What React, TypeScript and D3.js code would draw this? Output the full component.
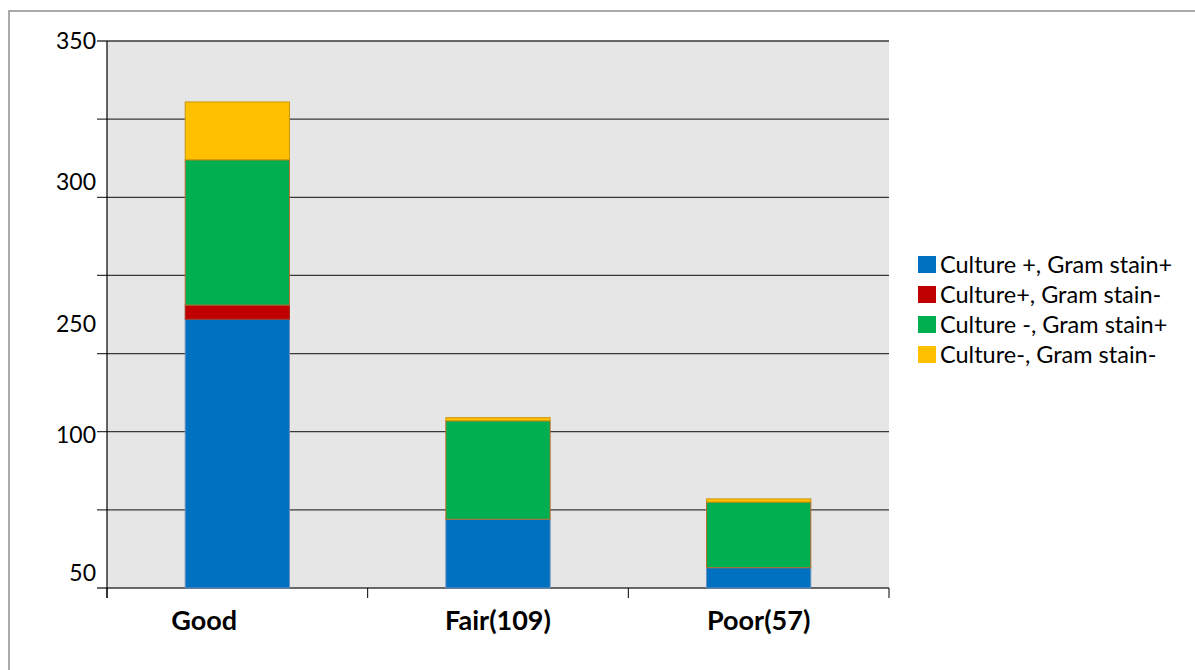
import React from 'react'
import * as d3 from 'd3'

const categories = ['Good', 'Fair(109)', 'Poor(57)']
const seriesNames = ['Culture +, Gram stain+', 'Culture+, Gram stain-', 'Culture -, Gram stain+', 'Culture-, Gram stain-']
const cultPosGramPos = [172, 44, 13]
const cultPosGramNeg = [9, 0, 0]
const cultNegGramPos = [93, 63, 42]
const cultNegGramNeg = [37, 2, 2]
const gridValues = [0, 50, 100, 150, 200, 250, 300, 350]
// the tick texts in the original sit at odd spots, kept as they were
const tickLabels = ['350', '300', '250', '100', '50']
const tickLabelAt = [350, 260, 169, 98, 10]

const colors = ['#0070c0', '#c00000', '#00b050', '#ffc000']
const strokes = ['#6a8fbf', '#a0301c', '#b8682c', '#c8960a']

const W = 1195
const H = 670
const left = 107, right = 889, top = 41, bottom = 588

const App = () => {
  const x = d3.scaleBand().domain(categories).range([left, right]).paddingInner(0.6).paddingOuter(0.3)
  const band = d3.scaleBand().domain(categories).range([left, right])
  const y = d3.scaleLinear().domain([0, 350]).range([bottom, top])

  const rows = categories.map((c, i) => ({
    cat: c,
    s0: cultPosGramPos[i],
    s1: cultPosGramNeg[i],
    s2: cultNegGramPos[i],
    s3: cultNegGramNeg[i],
  }))
  const stacked = d3.stack<any>().keys(['s0', 's1', 's2', 's3'])(rows)
  const font = 'Lato, "Open Sans", sans-serif'

  return (
    <svg width={W} height={H} style={{position: 'absolute', left: 0, top: 0}}>
      <rect x={0} y={0} width={W} height={H} fill="#fff" />
      <rect x={9} y={11} width={W + 20} height={H + 20} fill="none" stroke="#aaaaaa" strokeWidth={2} />
      <rect x={left} y={top} width={right - left} height={bottom - top} fill="#e6e6e6" />
      {gridValues.map(v => (
        <line key={v} x1={left - 10} x2={right} y1={y(v)} y2={y(v)} stroke="#383838" strokeWidth={1.3} />
      ))}
      <line x1={left} x2={left} y1={top} y2={bottom + 10} stroke="#000" strokeWidth={1.2} />
      {band.domain().map(c => (
        <line key={c} x1={band(c)!} x2={band(c)!} y1={bottom} y2={bottom + 10} stroke="#000" strokeWidth={1} />
      ))}
      <line x1={right} x2={right} y1={bottom} y2={bottom + 10} stroke="#000" strokeWidth={1} />
      {stacked.map((layer, k) => (
        <g key={k}>
          {layer.map((d, i) => {
            const h = y(d[0]) - y(d[1])
            if (h <= 0) return null
            return (
              <rect key={i} x={x(categories[i])!} width={x.bandwidth()} y={y(d[1])} height={h}
                fill={colors[k]} stroke={strokes[k]} strokeWidth={1} />
            )
          })}
        </g>
      ))}
      {tickLabels.map((t, i) => (
        <text key={t} x={96} y={y(tickLabelAt[i])} dy="0.36em" textAnchor="end" fontSize={23} fontFamily={font} fill="#000">{t}</text>
      ))}
      {categories.map((c, i) => {
        const cx = band(c)! + band.bandwidth() / 2
        return (
          <text key={c} x={i === 0 ? cx - 66 : cx} y={630} textAnchor={i === 0 ? 'start' : 'middle'}
            fontSize={27} fontWeight="bold" fontFamily={font} fill="#000">{c}</text>
        )
      })}
      {seriesNames.map((n, i) => (
        <g key={n} transform={`translate(918, ${256 + i * 30})`}>
          <rect width={18} height={17} fill={colors[i]} />
          <text x={22} y={9} dy="0.36em" fontSize={23.5} fontFamily={font} fill="#000">{n}</text>
        </g>
      ))}
    </svg>
  )
}

export default App
